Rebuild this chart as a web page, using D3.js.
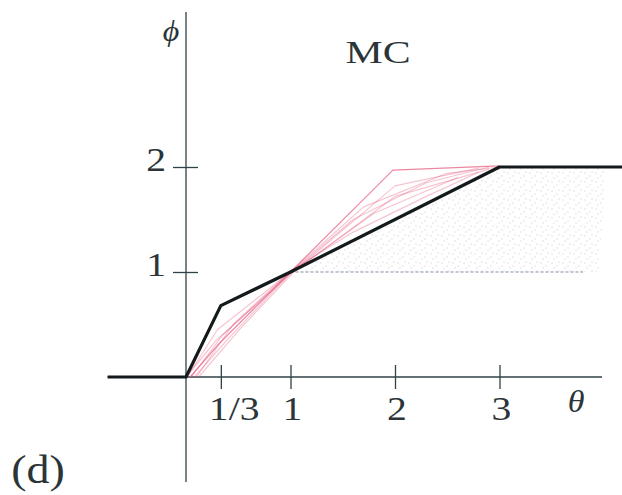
<!DOCTYPE html>
<html lang="en">
<head>
    <meta charset="UTF-8">
    <script src="https://d3js.org/d3.v7.min.js"></script>
    <title>MC</title>
    <style>
        body { margin: 0; background: #fff; }
        text { font-family: "Liberation Serif", "DejaVu Serif", serif; fill: #2b3538; }
    </style>
</head>
<body>
    <div id="chart"></div>
    <script>
        // tick values and labels
        var xTicks = [1/3, 1, 2, 3];
        var xTickLabels = ['1/3', '1', '2', '3'];
        var yTicks = [1, 2];
        var yTickLabels = ['1', '2'];

        // the thick black curve (theta, phi)
        var mcCurve = [[-0.75, 0], [0, 0], [1/3, 0.68], [1, 1], [3, 2], [4.2, 2]];

        // hand drawn red traces
        var red1 = [[0.04, 0], [0.3, 0.3], [1, 1], [1.98, 1.97], [3, 2.01]];
        var red2 = [[0.01, 0], [0.3, 0.45], [1, 1], [1.7, 1.62], [2.5, 1.94], [3, 2]];
        var red3 = [[0.08, 0], [0.4, 0.36], [1, 0.99], [1.8, 1.56], [2.6, 1.9]];
        var red4 = [[0, 0], [0.28, 0.34], [1, 0.98], [2, 1.72], [2.9, 1.98]];
        var red5 = [[0.12, 0], [0.5, 0.44], [1.05, 1.02], [2, 1.82], [2.8, 1.99]];
        var red6 = [[0.05, 0], [0.35, 0.4], [0.95, 0.95], [1.6, 1.5], [2.3, 1.85], [2.9, 2]];
        var red7 = [[0.1, 0], [0.45, 0.5], [1, 1.01], [1.6, 1.38], [2.3, 1.72], [2.8, 1.95]];

        // stippled region (between phi = 1 and the curve)
        var shade = [[1, 1], [3, 2], [4.02, 2], [3.95, 1]];

        var width = 622, height = 495;

        var x = d3.scaleLinear().domain([0, 1]).range([186, 290.5]);
        var y = d3.scaleLinear().domain([0, 1]).range([377, 272]);

        var svg = d3.select('#chart').append('svg')
            .attr('width', width)
            .attr('height', height);

        var defs = svg.append('defs');
        var pat = defs.append('pattern')
            .attr('id', 'stip')
            .attr('width', 11).attr('height', 9)
            .attr('patternUnits', 'userSpaceOnUse');
        [[2, 2], [7, 5], [4, 7], [9, 1]].forEach(function(p) {
            pat.append('circle').attr('cx', p[0]).attr('cy', p[1]).attr('r', 0.7).attr('fill', '#9aa4ad');
        });

        var line = d3.line().x(function(d) { return x(d[0]); }).y(function(d) { return y(d[1]); });

        // shading
        svg.append('path')
            .attr('d', line(shade) + 'Z')
            .attr('fill', 'url(#stip)')
            .attr('opacity', 0.45);
        svg.append('path')
            .attr('d', line([[1, 1], [3.8, 1]]))
            .attr('fill', 'none')
            .attr('stroke', '#aab6c2')
            .attr('stroke-width', 1.5)
            .attr('stroke-dasharray', '3,2');

        // axes
        var xAxis = d3.axisBottom(x).tickValues(xTicks).tickFormat('').tickSize(12);
        var gx = svg.append('g').attr('transform', 'translate(0,' + y(0) + ')').call(xAxis);
        gx.select('.domain').remove();
        gx.append('line').attr('x1', x(-0.75)).attr('x2', 602).attr('stroke', '#2f4247').attr('stroke-width', 1.3);
        gx.selectAll('.tick line').attr('y1', -12).attr('y2', 12).attr('stroke', '#2f4247').attr('stroke-width', 1.3);

        var yAxis = d3.axisLeft(y).tickValues(yTicks).tickFormat('').tickSize(13);
        var gy = svg.append('g').attr('transform', 'translate(' + x(0) + ',0)').call(yAxis);
        gy.select('.domain').remove();
        gy.append('line').attr('y1', 12).attr('y2', 482).attr('stroke', '#2f4247').attr('stroke-width', 1.3);
        gy.selectAll('.tick line').attr('x1', -13).attr('x2', 12).attr('stroke', '#2f4247').attr('stroke-width', 1.3);

        // red traces
        [red1, red2, red3, red4, red5, red6, red7].forEach(function(r, i) {
            svg.append('path')
                .attr('d', line(r))
                .attr('fill', 'none')
                .attr('stroke', '#e4557a')
                .attr('stroke-width', 1.2)
                .attr('stroke-linejoin', 'round')
                .attr('opacity', i == 0 ? 0.7 : 0.35);
        });

        // black curve
        svg.append('path')
            .attr('d', line(mcCurve))
            .attr('fill', 'none')
            .attr('stroke', '#141a1b')
            .attr('stroke-width', 3.2)
            .attr('stroke-linejoin', 'round');

        function label(str, px, py, size, anchor, sx, italic) {
            svg.append('text')
                .attr('transform', 'translate(' + px + ',' + py + ') scale(' + sx + ',1)')
                .attr('text-anchor', anchor)
                .attr('font-size', size)
                .attr('font-style', italic ? 'italic' : 'normal')
                .text(str);
        }

        xTicks.forEach(function(v, i) {
            if (i == 0) label(xTickLabels[i], x(v) - 12, 420, 33, 'start', 1.2);
            else label(xTickLabels[i], x(v) + 2, 420, 33, 'middle', 1.2);
        });
        yTicks.forEach(function(v, i) {
            label(yTickLabels[i], 166, y(v) + 4, 33, 'end', 1.2);
        });

        label('MC', 378, 63, 31, 'middle', 1.35);
        label('\u03b8', 576, 412, 31, 'middle', 1.1, true);
        label('\u03d5', 171, 41, 29, 'middle', 1.1, true);
        label('(d)', 38, 483, 40, 'middle', 1.15);
    </script>
</body>
</html>
